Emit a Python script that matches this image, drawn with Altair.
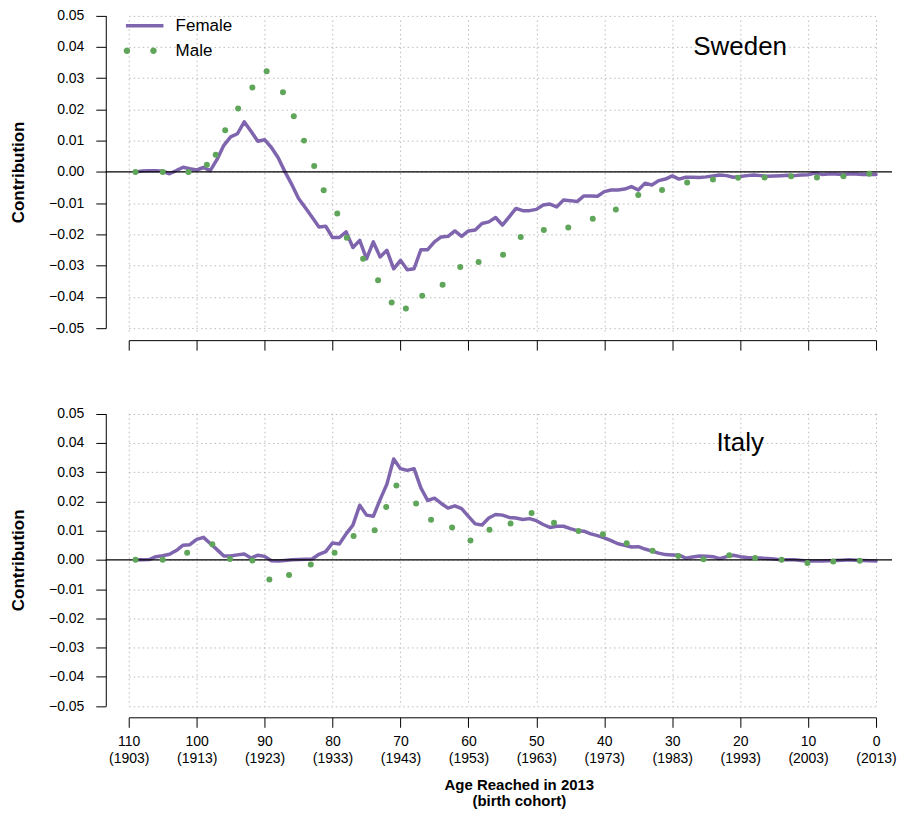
import altair as alt
import pandas as pd

# ---------------- data ----------------
series = ["Female", "Male"]
colors = ["#7F65AE", "#5FA55A"]

female_ages = list(range(109, -1, -1))

sweden_female = [
    0.0000, 0.0003, 0.0004, 0.0004, 0.0002, -0.0006, 0.0004, 0.0015, 0.0010, 0.0006,
    0.0014, 0.0004, 0.0040, 0.0085, 0.0112, 0.0122, 0.0160, 0.0130, 0.0098, 0.0103,
    0.0078, 0.0045, 0.0000, -0.0040, -0.0085, -0.0115, -0.0145, -0.0176, -0.0174, -0.0210,
    -0.0210, -0.0192, -0.0242, -0.0219, -0.0278, -0.0224, -0.0272, -0.0251, -0.0310, -0.0283,
    -0.0313, -0.0310, -0.0249, -0.0249, -0.0224, -0.0208, -0.0206, -0.0189, -0.0206, -0.0189,
    -0.0186, -0.0165, -0.0160, -0.0146, -0.0170, -0.0144, -0.0117, -0.0124, -0.0124, -0.0120,
    -0.0106, -0.0103, -0.0112, -0.0090, -0.0092, -0.0095, -0.0077, -0.0077, -0.0078, -0.0063,
    -0.0058, -0.0058, -0.0055, -0.0047, -0.0058, -0.0036, -0.0042, -0.0028, -0.0023, -0.0013,
    -0.0023, -0.0017, -0.0017, -0.0018, -0.0016, -0.0013, -0.0010, -0.0012, -0.0017, -0.0015,
    -0.0012, -0.0010, -0.0012, -0.0014, -0.0013, -0.0012, -0.0011, -0.0012, -0.0010, -0.0009,
    -0.0004, -0.0008, -0.0007, -0.0007, -0.0008, -0.0007, -0.0007, -0.0008, -0.0008, -0.0008,
]

sweden_male_ages = [
    109, 105, 101.2, 98.5, 97.2, 95.8, 93.9, 91.8, 89.7, 87.3,
    85.7, 84.2, 82.7, 81.3, 79.3, 77.9, 75.5, 73.3, 71.3, 69.2,
    66.8, 63.8, 61.2, 58.5, 54.9, 52.3, 48.9, 45.3, 41.7, 38.3,
    35.0, 31.5, 27.8, 24.0, 20.3, 16.4, 12.5, 8.7, 4.8, 1.0,
]
sweden_male = [
    0.0000, 0.0000, 0.0000, 0.0023, 0.0055, 0.0133, 0.0203, 0.0270, 0.0322, 0.0255,
    0.0178, 0.0100, 0.0019, -0.0059, -0.0133, -0.0211, -0.0278, -0.0347, -0.0418, -0.0437,
    -0.0396, -0.0361, -0.0304, -0.0288, -0.0265, -0.0208, -0.0186, -0.0178, -0.0150, -0.0120,
    -0.0074, -0.0058, -0.0034, -0.0024, -0.0019, -0.0018, -0.0014, -0.0018, -0.0014, -0.0006,
]

italy_female = [
    0.0000, 0.0000, 0.0001, 0.0011, 0.0014, 0.0019, 0.0032, 0.0050, 0.0052, 0.0070,
    0.0077, 0.0056, 0.0035, 0.0013, 0.0013, 0.0017, 0.0020, 0.0006, 0.0016, 0.0012,
    -0.0003, -0.0004, -0.0002, 0.0000, 0.0001, 0.0002, 0.0003, 0.0019, 0.0028, 0.0058,
    0.0054, 0.0089, 0.0119, 0.0187, 0.0153, 0.0149, 0.0206, 0.0259, 0.0345, 0.0312,
    0.0306, 0.0312, 0.0246, 0.0203, 0.0211, 0.0193, 0.0177, 0.0185, 0.0175, 0.0149,
    0.0123, 0.0119, 0.0143, 0.0155, 0.0153, 0.0145, 0.0143, 0.0138, 0.0141, 0.0134,
    0.0121, 0.0111, 0.0115, 0.0115, 0.0107, 0.0100, 0.0098, 0.0089, 0.0083, 0.0075,
    0.0066, 0.0055, 0.0050, 0.0044, 0.0045, 0.0037, 0.0030, 0.0023, 0.0018, 0.0017,
    0.0016, 0.0006, 0.0010, 0.0013, 0.0012, 0.0011, 0.0004, 0.0011, 0.0016, 0.0011,
    0.0008, 0.0006, 0.0006, 0.0005, 0.0003, 0.0000, 0.0000, 0.0000, -0.0002, -0.0004,
    -0.0004, -0.0004, -0.0003, -0.0002, -0.0001, 0.0000, -0.0001, -0.0002, -0.0003, -0.0004,
]

italy_male_ages = [
    109, 105, 101.4, 97.7, 95.1, 91.8, 89.3, 86.4, 83.2, 79.7,
    76.9, 73.8, 72.1, 70.6, 67.7, 65.5, 62.4, 59.7, 56.9, 53.8,
    50.7, 47.4, 43.8, 40.2, 36.7, 32.9, 29.1, 25.4, 21.6, 17.8,
    13.9, 10.1, 6.3, 2.4,
]
italy_male = [
    0.0000, 0.0000, 0.0024, 0.0053, 0.0003, -0.0002, -0.0067, -0.0052, -0.0016, 0.0024,
    0.0082, 0.0101, 0.0181, 0.0254, 0.0193, 0.0137, 0.0111, 0.0066, 0.0103, 0.0124,
    0.0160, 0.0127, 0.0099, 0.0088, 0.0057, 0.0031, 0.0013, 0.0002, 0.0016, 0.0006,
    0.0000, -0.0011, -0.0006, -0.0003,
]

x_ticks = [110, 100, 90, 80, 70, 60, 50, 40, 30, 20, 10, 0]
x_tick_labels = ["110", "100", "90", "80", "70", "60", "50", "40", "30", "20", "10", "0"]
x_cohort_labels = ["(1903)", "(1913)", "(1923)", "(1933)", "(1943)", "(1953)",
                   "(1963)", "(1973)", "(1983)", "(1993)", "(2003)", "(2013)"]
y_ticks = [-0.05, -0.04, -0.03, -0.02, -0.01, 0.0, 0.01, 0.02, 0.03, 0.04, 0.05]
panel_names = ["Sweden", "Italy"]
x_title = ["Age Reached in 2013", "(birth cohort)"]
y_title = "Contribution"

# ---------------- tables ----------------
def female_df(vals):
    return pd.DataFrame({"age": female_ages, "value": vals, "sex": series[0]})

def male_df(ages, vals):
    return pd.DataFrame({"age": ages, "value": vals, "sex": series[1]})

# ---------------- styling ----------------
FONT = "Liberation Sans"
W = 788
H_TOP, H_BOT = 333, 316

x_label_expr = " : ".join(
    f"datum.value == {v} ? ['{a}', '{c}']"
    for v, a, c in zip(x_ticks, x_tick_labels, x_cohort_labels)
) + " : ''"

grid_style = dict(grid=True, gridColor="#BBBBBB", gridDash=[1.5, 3], gridWidth=1,
                  domainColor="black", domainWidth=1, tickColor="black",
                  tickWidth=1, tickSize=10)

female_path = "M-3.76,0L3.76,0"
male_path = ("M-4.22,0A0.66,0.66,0,1,1,-2.9,0A0.66,0.66,0,1,1,-4.22,0Z "
             "M1.1,0A0.66,0.66,0,1,1,2.42,0A0.66,0.66,0,1,1,1.1,0Z")

legend_common = dict(title=None, orient="none", legendX=30.5, symbolSize=100,
                     labelOffset=22.5, labelFont=FONT, labelFontSize=17,
                     labelColor="black")
female_legend = alt.Legend(legendY=9.5, symbolType=female_path,
                           symbolStrokeWidth=3.5, symbolFillColor="transparent",
                           **legend_common)
male_legend = alt.Legend(legendY=34.5, symbolType=male_path,
                         symbolStrokeWidth=0, symbolOpacity=1, **legend_common)


def panel(name, fvals, mages, mvals, height, y_range, bottom):
    xscale = alt.Scale(domain=[110, 0], range=[23, 772], nice=False, zero=False)
    yscale = alt.Scale(domain=[-0.05, 0.05], range=y_range, nice=False, zero=False)
    if bottom:
        xaxis = alt.Axis(values=x_ticks, tickCount=len(x_ticks),
                         labelExpr=x_label_expr, labelFont=FONT,
                         labelFontSize=14, labelColor="black", labelBaseline="top",
                         labelPadding=7, labelLineHeight=17, labelFlush=False,
                         labelOverlap=False,
                         title=x_title, titleFont=FONT, titleFontSize=15,
                         titleFontWeight="bold", titleColor="black",
                         titleLineHeight=16, titleX=414, titleY=60,
                         titleAlign="center", titleBaseline="top", **grid_style)
    else:
        xaxis = alt.Axis(values=x_ticks, tickCount=len(x_ticks), labels=False,
                         title=None, **grid_style)
    yaxis = alt.Axis(values=y_ticks, tickCount=len(y_ticks), format=".2f",
                     labelFont=FONT, labelFontSize=14, labelColor="black",
                     labelPadding=12, labelFlush=False, labelOverlap=False,
                     title=y_title, titleFont=FONT, titleFontSize=17,
                     titleFontWeight="bold", titleColor="black", titleAngle=270,
                     titleX=-87.5, titleY=(y_range[0] + y_range[1]) / 2,
                     titleAlign="center", titleBaseline="middle", **grid_style)

    x = alt.X("age:Q", scale=xscale, axis=xaxis)
    y = alt.Y("value:Q", scale=yscale, axis=yaxis)

    if bottom:
        line = alt.Chart(female_df(fvals)).mark_line(
            strokeWidth=3.5, strokeJoin="round", strokeCap="round", color=colors[0]
        ).encode(x=x, y=y)
        pts = alt.Chart(male_df(mages, mvals)).mark_circle(
            size=36, opacity=1, color=colors[1]).encode(x="age:Q", y="value:Q")
    else:
        line = alt.Chart(female_df(fvals)).mark_line(
            strokeWidth=3.5, strokeJoin="round", strokeCap="round"
        ).encode(x=x, y=y, stroke=alt.Stroke(
            "sex:N", scale=alt.Scale(domain=[series[0]], range=[colors[0]]),
            legend=female_legend))
        pts = alt.Chart(male_df(mages, mvals)).mark_circle(size=36, opacity=1).encode(
            x="age:Q", y="value:Q", fill=alt.Fill(
                "sex:N", scale=alt.Scale(domain=[series[1]], range=[colors[1]]),
                legend=male_legend))
    zero = alt.Chart(pd.DataFrame({"v": [0.0]})).mark_rule(
        color="black", strokeWidth=1.2).encode(y="v:Q")
    label = alt.Chart(pd.DataFrame({"panel": [name]})).mark_text(
        font=FONT, fontSize=26, color="black", align="center", baseline="middle"
    ).encode(x=alt.datum(20), y=alt.datum(0.04), text="panel:N")

    return alt.layer(line, zero, pts, label).properties(width=W, height=height)


top = panel(panel_names[0], sweden_female, sweden_male_ages, sweden_male,
            H_TOP, [321, 7.7], False)
bot = panel(panel_names[1], italy_female, italy_male_ages, italy_male,
            H_BOT, [304.7, 11.7], True)

chart = alt.vconcat(top, bot, spacing=50).resolve_scale(
    stroke="independent", fill="independent").resolve_legend(
    stroke="independent", fill="independent").properties(
    padding={"left": 0, "top": -2, "right": 0, "bottom": 0}
).configure_view(stroke="transparent")

chart.save("out.html", embed_options={"renderer": "svg", "actions": False})
